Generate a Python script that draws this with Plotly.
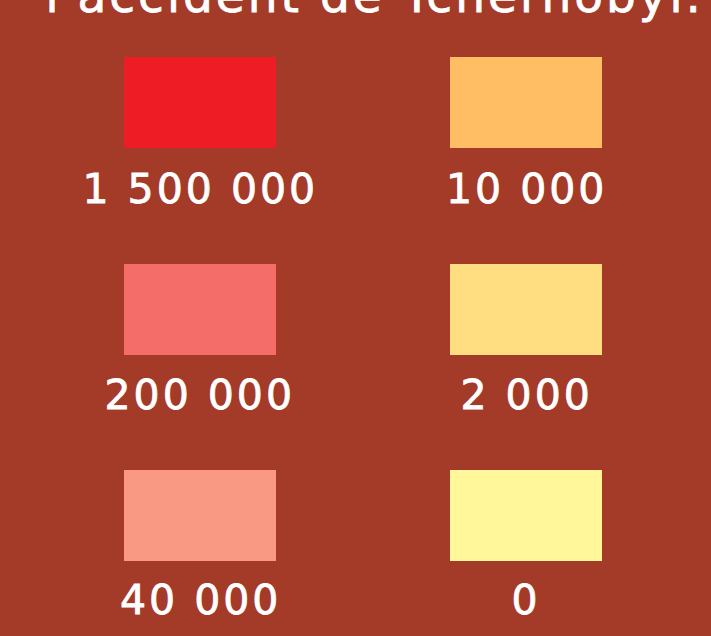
import plotly.graph_objects as go

title_text = "l'accident de Tchernobyl."
labels = ["1 500 000", "200 000", "40 000", "10 000", "2 000", "0"]
colors = ["#EE1C25", "#F56D68", "#F99984", "#FFBE64", "#FFDE82", "#FFF799"]
columns = [0, 0, 0, 1, 1, 1]
rows = [0, 1, 2, 0, 1, 2]

W, H = 711, 636
BG = "#A33B28"
col_x = [200, 526]
row_top = [57, 264, 470]
rect_w, rect_h = 152, 91
label_mid = [189, 395, 600]
FONT = "DejaVu Sans"

fig = go.Figure()
for lab, c, ci, ri in zip(labels, colors, columns, rows):
    fig.add_trace(go.Bar(
        x=[col_x[ci]], y=[rect_h], base=[row_top[ri]], width=[rect_w],
        marker=dict(color=c, line=dict(width=0)), hoverinfo="skip", showlegend=False,
    ))
    fig.add_annotation(x=col_x[ci], y=label_mid[ri], text=lab, showarrow=False,
                       xanchor="center", yanchor="middle",
                       font=dict(family=FONT, size=41, color="white"))

fig.add_annotation(x=374 / W, y=1 + 5 / H, xref="paper", yref="paper",
                   text=title_text, showarrow=False,
                   xanchor="center", yanchor="middle",
                   font=dict(family=FONT, size=47, color="white"))

fig.update_layout(
    width=W, height=H, margin=dict(l=0, r=0, t=0, b=0),
    paper_bgcolor=BG, plot_bgcolor=BG, barmode="overlay",
    xaxis=dict(range=[0, W], visible=False, fixedrange=True),
    yaxis=dict(range=[H, 0], visible=False, fixedrange=True),
)

post = (
    "document.documentElement.style.margin='0';"
    "document.body.style.margin='0';document.body.style.padding='0';"
    "document.body.style.overflow='hidden';"
    "var g=document.getElementById('{plot_id}');"
    "g.querySelectorAll('.annotation-text').forEach(function(t){"
    "t.style.letterSpacing='3px';t.style.stroke='white';t.style.strokeWidth='0.8px';});"
)
fig.write_html("out.html", post_script=post, config={"displayModeBar": False})
